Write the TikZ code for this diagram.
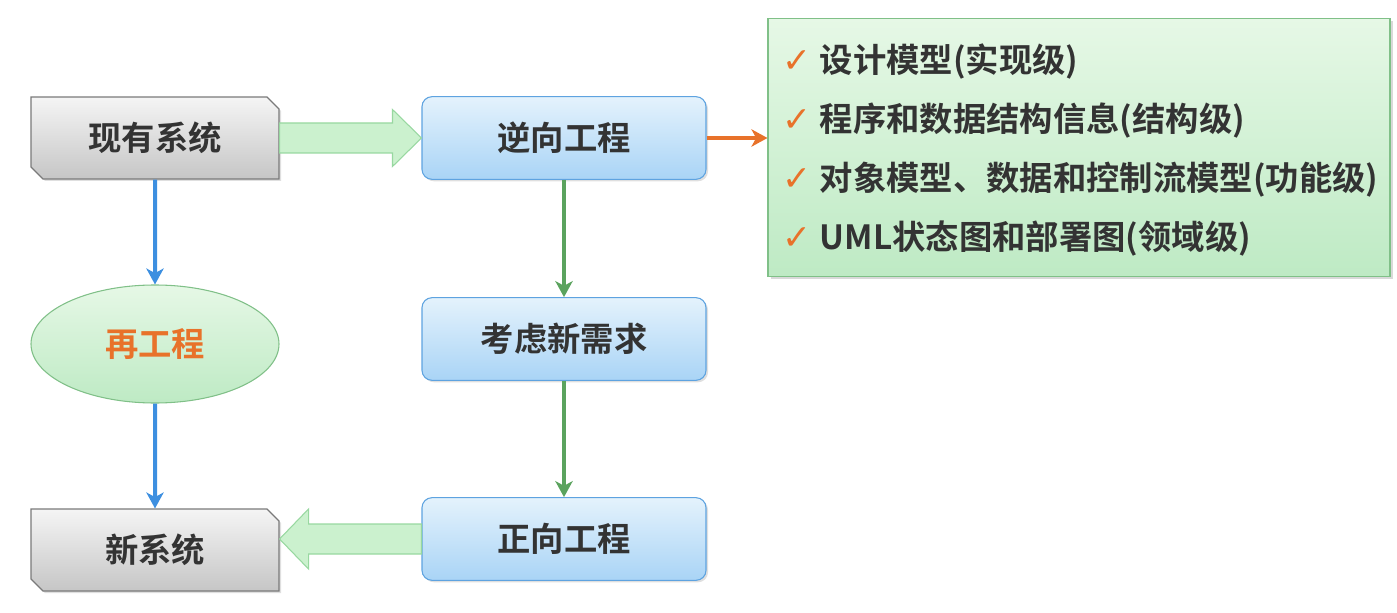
\documentclass[tikz,border=0pt]{standalone}
\usepackage{fontspec}
\setmainfont{Noto Sans CJK SC}[BoldFont={Noto Sans CJK SC Bold}]
\newfontfamily\symfont{DejaVu Sans}
\usepackage{xcolor}
\usepackage{tikz}
\usetikzlibrary{shapes.geometric, shapes.misc, arrows, arrows.meta, calc, shadows}

\definecolor{txtgray}{HTML}{333333}
\definecolor{grayedge}{HTML}{7A7A7A}
\definecolor{bluetop}{HTML}{E4F2FC}
\definecolor{bluebot}{HTML}{A9D4F6}
\definecolor{blueedge}{HTML}{5EA3E0}
\definecolor{greentop}{HTML}{E6F8E6}
\definecolor{greenbot}{HTML}{BEEAC4}
\definecolor{greenedge}{HTML}{80C088}
\definecolor{fatfill}{HTML}{CBF1CE}
\definecolor{fatedge}{HTML}{98D8A0}
\definecolor{blueline}{HTML}{3D8FE0}
\definecolor{greenline}{HTML}{5BA35E}
\definecolor{orangeline}{HTML}{E8722A}

\tikzstyle{flowarrow} = [line width=3pt,-{Stealth[length=12pt,width=13pt,inset=3.5pt]}]
\tikzstyle{label} = [font=\fontsize{25}{30}\selectfont\bfseries, text=txtgray, inner sep=0pt]
\tikzstyle{sysbox} = [label, chamfered rectangle, chamfered rectangle corners={north east,south west},
  chamfered rectangle xsep=4pt, chamfered rectangle ysep=5pt, minimum width=186pt, minimum height=61.5pt,
  draw=grayedge, thick, top color=gray!8, bottom color=gray!45,
  drop shadow={shadow xshift=1.5pt, shadow yshift=-1.5pt, opacity=0.25}]
\tikzstyle{stepbox} = [label, rectangle, rounded corners=7.5pt, minimum width=213pt, minimum height=62pt,
  draw=blueedge, thick, top color=bluetop, bottom color=bluebot,
  drop shadow={shadow xshift=1.5pt, shadow yshift=-1.5pt, opacity=0.25}]
\tikzstyle{reengbox} = [label, ellipse, minimum width=186pt, minimum height=88.5pt,
  draw=greenedge, thick, top color=greentop, bottom color=greenbot, text=orangeline]
\tikzstyle{infobox} = [rectangle, minimum width=466.5pt, minimum height=194pt, inner sep=0pt,
  draw=greenedge, thick, top color=greentop, bottom color=greenbot,
  drop shadow={shadow xshift=2pt, shadow yshift=-2pt, opacity=0.3}]
\tikzstyle{item} = [label, anchor=west]
\tikzstyle{fatarrow} = [draw=fatedge, thick, fill=fatfill, line join=miter]

\newcommand{\chk}{{\fontsize{26}{26}\symfont\mdseries\color{orangeline}✓}}

\begin{document}
\begin{tikzpicture}[x=0.75pt,y=-0.75pt]
\useasboundingbox (0,0) rectangle (1397,613);

% left column
\node[sysbox] (exist) at (155,138) {现有系统};
\node[reengbox] (reeng) at (155,344) {再工程};
\node[sysbox] (new) at (155,550) {新系统};

% middle column
\node[stepbox] (rev) at (564,138) {逆向工程};
\node[stepbox] (req) at (564,339) {考虑新需求};
\node[stepbox] (fwd) at (564,539) {正向工程};

% result levels
\node[infobox] (info) at (1079,147.5) {};
\foreach \t [count=\i] in {设计模型(实现级), 程序和数据结构信息(结构级),
  对象模型、数据和控制流模型(功能级), UML状态图和部署图(领域级)}
{
  \node[item] (item\i) at ($(info.north west)+(15,44+59*\i-59)$) {\chk\hspace{6pt}\t};
}

% thin arrows
\draw[flowarrow, blueline] (exist) -- (reeng);
\draw[flowarrow, blueline] (reeng) -- (new);
\draw[flowarrow, greenline, line width=2.4pt] (rev) -- (req);
\draw[flowarrow, greenline, line width=2.4pt] (req) -- (fwd);
\draw[flowarrow, orangeline] (rev.east) -- (rev.east -| info.west);

% wide arrows
\draw[fatarrow] ($(exist.east)+(0,-15)$) -- ($(rev.west)+(-29,-15)$) -- ($(rev.west)+(-29,-28.5)$)
  -- (rev.west) -- ($(rev.west)+(-29,28.5)$) -- ($(rev.west)+(-29,15)$) -- ($(exist.east)+(0,15)$) -- cycle;
\coordinate (tip) at (fwd.west -| new.east);
\draw[fatarrow] ($(fwd.west)+(0,-15)$) -- ($(tip)+(29,-15)$) -- ($(tip)+(29,-30)$)
  -- (tip) -- ($(tip)+(29,30)$) -- ($(tip)+(29,15)$) -- ($(fwd.west)+(0,15)$) -- cycle;

\end{tikzpicture}
\end{document}
